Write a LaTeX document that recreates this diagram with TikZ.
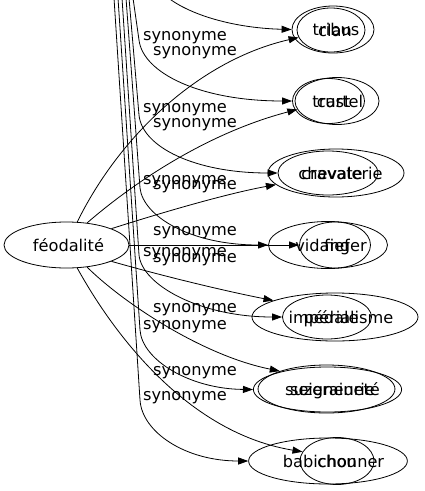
\documentclass[tikz,border=0pt]{standalone}
\usepackage{fontspec}
\setmainfont{DejaVu Sans}
\usetikzlibrary{arrows.meta,shapes.geometric}
\newcommand{\shft}[2]{\hspace*{#1}#2}
\begin{document}
\begin{tikzpicture}[x=1pt,y=-1pt,
  font=\fontsize{16.2}{19}\selectfont,
  ell/.style={ellipse, draw, inner sep=0pt, line width=0.8pt, text height=12pt, text depth=0pt},
  edge/.style={draw, line width=0.8pt, -{Triangle[length=10pt,width=7pt]}},
  lab/.style={inner sep=0pt}]
\useasboundingbox (0,0) rectangle (424,491);
\clip (0,0) rectangle (424,491);
% nodes
\node[ell, minimum width=125pt, minimum height=46pt] (feod) at (66.5,245) {\shft{4pt}{féodalité}};
\node[ell, minimum width=82pt, minimum height=47pt] (r1o) at (333,29.5) {\shft{6pt}{tribus}};
\node[ell, minimum width=68pt, minimum height=44pt] (r1i) at (331,30) {\shft{8pt}{clan}};
\node[ell, minimum width=72pt, minimum height=45pt] (r2a) at (328.5,101) {\shft{6pt}{trust}};
\node[ell, minimum width=84pt, minimum height=47pt] (r2b) at (337,101) {\shft{6pt}{cartel}};
\node[ell, minimum width=136pt, minimum height=48pt] (r3o) at (336,173) {\shft{9pt}{chevalerie}};
\node[ell, minimum width=100pt, minimum height=44pt] (r3i) at (328,173) {\shft{8pt}{cravate}};
\node[ell, minimum width=119pt, minimum height=47pt] (r4o) at (328,245) {\shft{6pt}{vidanger}};
\node[ell, minimum width=71pt, minimum height=46pt] (r4i) at (335,245) {\shft{4pt}{fief}};
\node[ell, minimum width=166pt, minimum height=48pt] (r5o) at (335,317) {\shft{12pt}{impérialisme}};
\node[ell, minimum width=82pt, minimum height=44pt] (r5i) at (327,317) {\shft{8pt}{pédale}};
\node[ell, minimum width=133pt, minimum height=48pt] (r6o) at (326.5,389) {\shft{12pt}{seigneurie}};
\node[ell, minimum width=129pt, minimum height=45pt] (r6i) at (327.5,389.5) {\shft{10pt}{suzeraineté}};
\node[ell, minimum width=156pt, minimum height=46pt] (r7o) at (328,461) {\shft{11pt}{babichonner}};
\node[ell, minimum width=74pt, minimum height=47pt] (r7i) at (337,461) {\shft{0pt}{chou}};
% free ends of the bundle coming from above
\coordinate (b1) at (155,-15);
\coordinate (b2) at (133,-2);
\coordinate (b3) at (129,-2);
\coordinate (b4) at (126,-2);
\coordinate (b5) at (122,-2);
\coordinate (b6) at (118,-2);
\coordinate (b7) at (114,-2);
\coordinate (v2) at (139,40);
\coordinate (v3) at (139,115);
\coordinate (v4) at (140,188);
\coordinate (v5) at (139,255);
\coordinate (v6) at (140,330);
\coordinate (v7) at (140,400);
% bundle edges
\draw[edge] (b1) .. controls (175,12) and (230,28) .. (r1o.west);
\draw[edge] (b2) -- (v2) .. controls (143,73) and (200,101) .. (r2a.west);
\draw[edge] (b3) -- (v3) .. controls (142,147) and (195,173) .. (r3i.west);
\draw[edge] (b4) -- (v4) .. controls (143,216) and (190,245) .. (r4o.west);
\draw[edge] (b5) -- (v5) .. controls (142,285) and (200,317) .. (r5i.west);
\draw[edge] (b6) -- (v6) .. controls (142,360) and (190,389) .. (r6i.west);
\draw[edge] (b7) -- (v7) .. controls (142,432) and (185,461) .. (r7o.west);
% edges from feodalite
\draw[edge] (feod.65) .. controls (120,135) and (200,60) .. (r1i.193);
\draw[edge] (feod.47) .. controls (125,190) and (200,135) .. (r2b.192);
\draw[edge] (feod.20) .. controls (170,210) and (230,193) .. (r3o.191.5);
\draw[edge] (feod.east) -- (r4i.west);
\draw[edge] (feod.-20) .. controls (170,278) and (230,292) .. (r5o.165);
\draw[edge] (feod.-47) .. controls (120,300) and (200,355) .. (r6o.159);
\draw[edge] (feod.-65) .. controls (95,300) and (170,430) .. (r7i.165);
% labels
\node[lab] (lf1) at (195,53) {synonyme};
\node[lab] (lf2) at (195,125) {synonyme};
\node[lab] (lf3) at (195,187) {synonyme};
\node[lab] (lf4) at (195,233) {synonyme};
\node[lab] (lf5) at (195,260) {synonyme};
\node[lab] (lf6) at (195,310) {synonyme};
\node[lab] (lf7) at (195,373) {synonyme};
\node[lab] (lb2) at (185,38) {synonyme};
\node[lab] (lb3) at (185,110) {synonyme};
\node[lab] (lb4) at (185,182) {synonyme};
\node[lab] (lb5) at (185,254) {synonyme};
\node[lab] (lb6) at (185,327) {synonyme};
\node[lab] (lb7) at (185,398) {synonyme};
\end{tikzpicture}
\end{document}
